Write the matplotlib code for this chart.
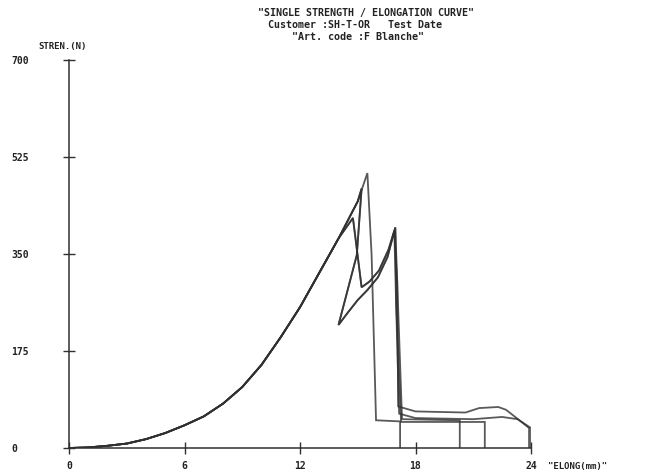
import matplotlib
matplotlib.use("Agg")
import matplotlib.pyplot as plt

# ---- data (elongation mm, strength N) ----
rise_x = [0, 1, 2, 3, 4, 5, 6, 7, 8, 9, 10, 11, 12, 13, 14]
rise_y = [0, 1, 4, 8, 16, 27, 41, 57, 80, 110, 150, 200, 254, 316, 378]

s1_x = [15.0, 15.5, 15.72, 15.95, 17.2, 17.2]
s1_y = [445, 496, 348, 50, 48, 0]

s2_x = [15.0, 15.2, 14.95, 14.0, 14.5, 15.0, 15.5, 16.05, 16.55, 16.95, 17.05, 17.1,
        18.0, 20.6, 21.3, 22.3, 22.7, 23.4, 23.9, 23.9]
s2_y = [445, 468, 348, 222, 245, 267, 285, 308, 345, 398, 300, 75,
        66, 64, 72, 74, 69, 50, 36, 0]

s3_x = [14.75, 15.2, 15.6, 16.1, 16.6, 16.9, 17.0, 17.15, 18.0, 21.0, 22.5, 23.3, 24.0, 24.0]
s3_y = [415, 290, 300, 320, 358, 392, 250, 62, 54, 52, 56, 52, 36, 0]

s4_x = [15.0, 15.2, 14.95, 14.0, 14.5, 15.0, 15.5, 16.05, 16.55, 16.95, 17.0, 17.25, 21.6, 21.6]
s4_y = [445, 468, 348, 222, 245, 267, 285, 308, 345, 398, 260, 47, 47, 0]

s5_x = [14.75, 15.2, 15.6, 16.1, 16.6, 16.9, 17.05, 17.3, 20.3, 20.3]
s5_y = [415, 290, 300, 320, 358, 392, 300, 52, 50, 0]

x_ticks = [0, 6, 12, 18, 24]
y_ticks = [0, 175, 350, 525, 700]

title_lines = ['"SINGLE STRENGTH / ELONGATION CURVE"',
               'Customer :SH-T-OR   Test Date',
               '"Art. code :F Blanche"']
y_title = "STREN.(N)"
x_title = '"ELONG(mm)"'

# ---- figure ----
fig = plt.figure(figsize=(6.52, 4.76), dpi=100)
ax = fig.add_axes([69 / 652, 28 / 476, (531 - 69) / 652, (448 - 60) / 476])

ink = "#303030"
mono = ["DejaVu Sans Mono"]

for tx, ty in [(s1_x, s1_y), (s2_x, s2_y), (s3_x, s3_y), (s4_x, s4_y), (s5_x, s5_y)]:
    ax.plot(rise_x + tx, rise_y + ty, color=ink, lw=1.3, alpha=0.8,
            solid_joinstyle="miter")

ax.set_xlim(0, 24)
ax.set_ylim(0, 700)
for s in ["top", "right"]:
    ax.spines[s].set_visible(False)
for s in ["left", "bottom"]:
    ax.spines[s].set_color(ink)
    ax.spines[s].set_linewidth(1.1)
ax.set_xticks(x_ticks)
ax.set_yticks(y_ticks)
ax.tick_params(axis="both", direction="inout", length=9, width=1.0, color=ink,
               labelsize=7, labelcolor="#222222")
ax.tick_params(axis="y", pad=37)
ax.tick_params(axis="x", pad=5)
for lab in ax.get_yticklabels():
    lab.set_fontfamily(mono)
    lab.set_fontweight("bold")
    lab.set_ha("left")
for lab in ax.get_xticklabels():
    lab.set_fontfamily(mono)
    lab.set_fontweight("bold")
ax.patch.set_alpha(0)

fig.text(258 / 652, 1 - 13 / 476, title_lines[0], family=mono, weight="bold",
         fontsize=7.2, color="#222222", va="center", ha="left")
fig.text(268 / 652, 1 - 25 / 476, title_lines[1], family=mono, weight="bold",
         fontsize=7.2, color="#222222", va="center", ha="left")
fig.text(292 / 652, 1 - 37 / 476, title_lines[2], family=mono, weight="bold",
         fontsize=7.2, color="#222222", va="center", ha="left")
fig.text(38 / 652, 1 - 46 / 476, y_title, family=mono, weight="bold",
         fontsize=6.5, color="#222222", va="center", ha="left")
fig.text(548 / 652, 1 - 466 / 476, x_title, family=mono, weight="bold",
         fontsize=6.5, color="#222222", va="center", ha="left")

fig.savefig("out.png", dpi=100)
